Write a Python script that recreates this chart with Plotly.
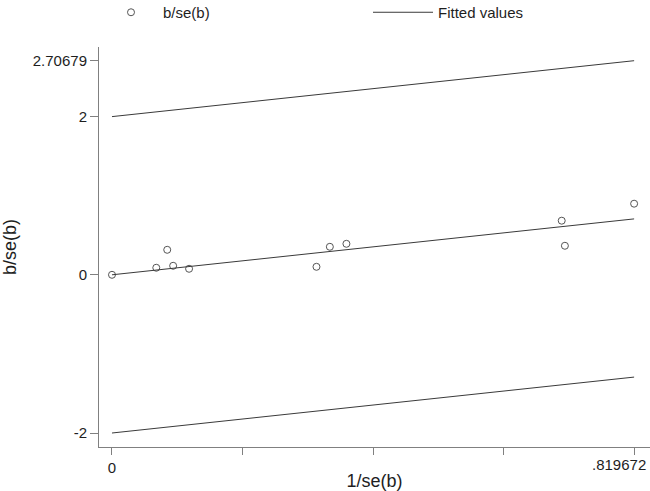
import plotly.graph_objects as go

# data
inv_se = [0.0, 0.0695, 0.0867, 0.0960, 0.1210, 0.3210, 0.3420, 0.3680, 0.7060, 0.7110, 0.819672]
b_se = [0.0, 0.089, 0.316, 0.114, 0.076, 0.101, 0.354, 0.392, 0.684, 0.367, 0.899]
line_x = [0.0, 0.819672]
fit_y = [0.0, 0.70679]
upper_y = [2.0, 2.70679]
lower_y = [-2.0, -1.29321]
x_ticks = [0.0, 0.204918, 0.409836, 0.614754, 0.819672]
x_labels = ["0", "", "", "", ".819672"]
y_ticks = [-2, 0, 2, 2.70679]
y_labels = ["-2", "0", "2", "2.70679"]

FONT = "Liberation Sans, Arial, sans-serif"
LINE = "#3a3a3a"
TXT = "#1e1e1e"

fig = go.Figure()
fig.add_trace(go.Scatter(
    x=inv_se, y=b_se, mode="markers", name="b/se(b)", legend="legend",
    marker=dict(symbol="circle-open", size=7, color="#555555", line=dict(width=1, color="#555555")),
))
fig.add_trace(go.Scatter(
    x=line_x, y=fit_y, mode="lines", name="Fitted values", legend="legend2",
    line=dict(color=LINE, width=1),
))
fig.add_trace(go.Scatter(
    x=line_x, y=upper_y, mode="lines", showlegend=False,
    line=dict(color=LINE, width=1),
))
fig.add_trace(go.Scatter(
    x=line_x, y=lower_y, mode="lines", showlegend=False,
    line=dict(color=LINE, width=1),
))

PW = 650 - 99  # plot width in px
PH = 447 - 47  # plot height in px

legend_common = dict(
    orientation="h", yanchor="top", bgcolor="rgba(0,0,0,0)",
    font=dict(family=FONT, size=15, color=TXT),
)

# last x tick label sits flush with the right edge (as in the reference), so it is
# drawn as an annotation anchored to the last tick
tick_text = x_labels[:-1] + [""]
fig.add_annotation(
    x=x_ticks[-1], xref="x", y=0, yref="paper", text=x_labels[-1],
    showarrow=False, xanchor="right", yanchor="top", xshift=14, yshift=-7,
    font=dict(family=FONT, size=15, color=TXT),
)

fig.update_layout(
    width=650, height=491,
    margin=dict(l=99, r=0, t=47, b=44, autoexpand=False),
    paper_bgcolor="white", plot_bgcolor="white",
    font=dict(family=FONT, size=15, color=TXT),
    legend=dict(x=(99 - 99) / PW, y=1 + 51 / PH, itemwidth=54, **legend_common),
    legend2=dict(x=(368 - 99) / PW, y=1 + 51 / PH, itemwidth=60, **legend_common),
    xaxis=dict(
        range=[-0.0204, 0.8446], showgrid=False, zeroline=False, automargin=False,
        showline=True, linecolor="#808080", linewidth=1,
        tickmode="array", tickvals=x_ticks, ticktext=tick_text,
        ticks="outside", ticklen=7, tickcolor="#808080",
        title=dict(text="1/se(b)", standoff=4),
    ),
    yaxis=dict(
        range=[-2.177, 2.880], showgrid=False, zeroline=False, automargin=False,
        showline=True, linecolor="#808080", linewidth=1,
        tickmode="array", tickvals=y_ticks, ticktext=y_labels,
        ticks="outside", ticklen=8, tickcolor="#808080",
        title=dict(text="b/se(b)", standoff=20),
    ),
)

fig.write_html("out.html", config={"displayModeBar": False},
               post_script="document.body.style.margin='0';")
